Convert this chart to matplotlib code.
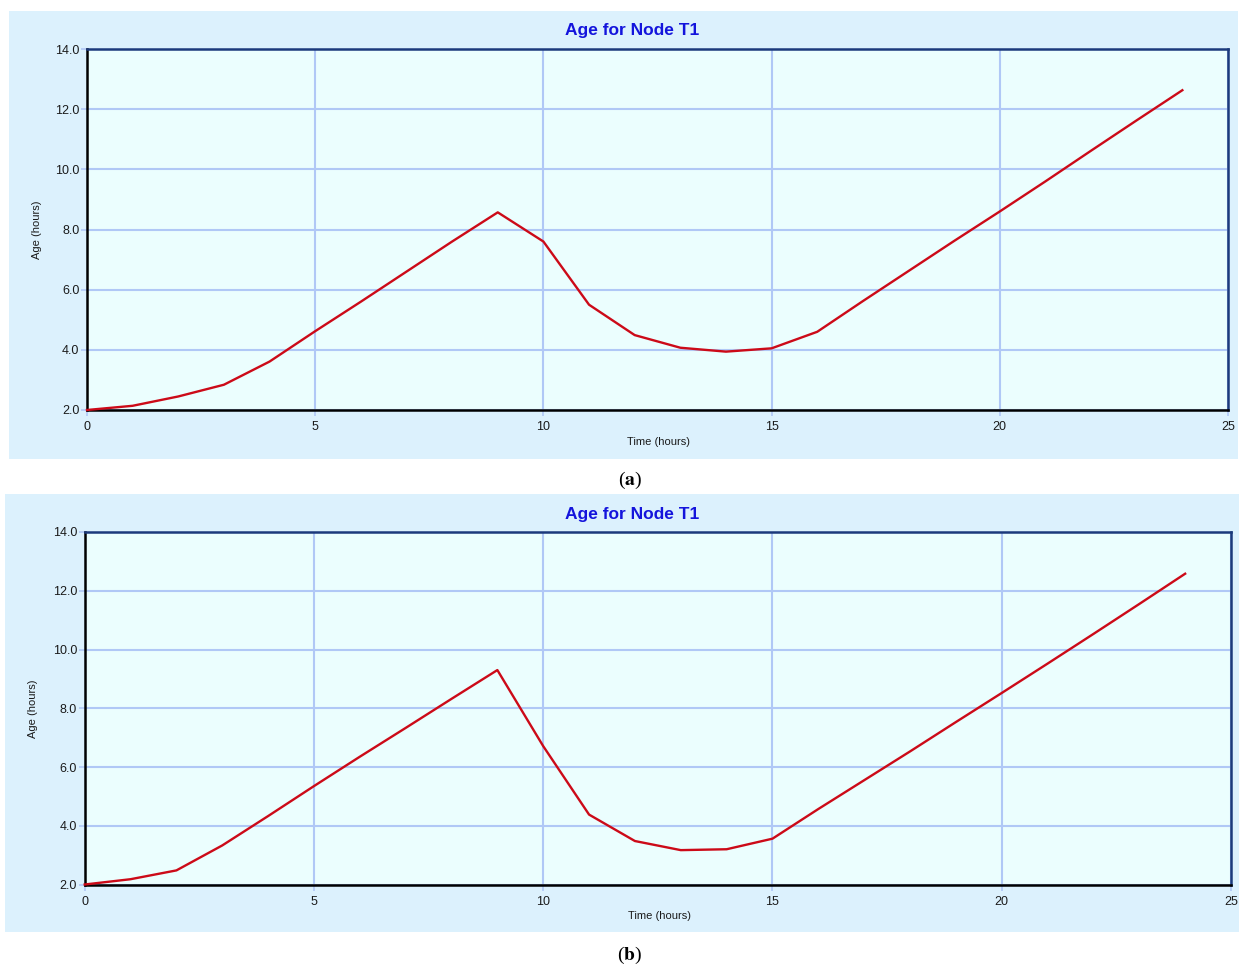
import matplotlib
matplotlib.use("Agg")
import matplotlib.pyplot as plt
from matplotlib.patches import Rectangle

plt.rcParams['font.family'] = ['Liberation Sans', 'DejaVu Sans']
plt.rcParams['mathtext.fontset'] = 'stix'

# ---- data ----
hours = list(range(0, 25))
age_a = [2.00, 2.14, 2.45, 2.84, 3.61, 4.62, 5.60, 6.60, 7.60, 8.57,
         7.60, 5.50, 4.49, 4.07, 3.94, 4.05, 4.60, 5.62, 6.62, 7.62,
         8.60, 9.60, 10.62, 11.63, 12.63]
age_b = [2.00, 2.18, 2.48, 3.33, 4.33, 5.35, 6.35, 7.33, 8.32, 9.30,
         6.71, 4.38, 3.48, 3.17, 3.20, 3.56, 4.57, 5.55, 6.53, 7.53,
         8.52, 9.52, 10.53, 11.55, 12.58]
xticks = [0, 5, 10, 15, 20, 25]
yticks = [2.0, 4.0, 6.0, 8.0, 10.0, 12.0, 14.0]
title = "Age for Node T1"
xlabel = "Time (hours)"
ylabel = "Age (hours)"
captions = ["a", "b"]

W, H = 1239, 967
fig = plt.figure(figsize=(W / 100, H / 100), dpi=100)
fig.patch.set_facecolor('white')

OUTER = '#dcf1fd'
INNER = '#ebfefe'
GRID = '#b0c8f6'
NAVY = '#1c3a7c'
RED = '#cc0a18'

def px_rect(x0, y0, x1, y1):
    return [x0 / W, 1 - y1 / H, (x1 - x0) / W, (y1 - y0) / H]

panels = [
    dict(box=(9, 11, 1238, 459), ax=(87, 49, 1228, 410), data=age_a,
         title_y=31, xl_y=442, yl_x=37, cap_y=480),
    dict(box=(5, 494, 1239, 932), ax=(84.7, 532, 1231, 884.5), data=age_b,
         title_y=514, xl_y=916, yl_x=33, cap_y=955),
]

for p, cap in zip(panels, captions):
    bx0, by0, bx1, by1 = p['box']
    fig.patches.append(Rectangle((bx0 / W, 1 - by1 / H), (bx1 - bx0) / W, (by1 - by0) / H,
                                 transform=fig.transFigure, facecolor=OUTER,
                                 edgecolor='none', zorder=-10))
    ax = fig.add_axes(px_rect(*p['ax']))
    ax.set_facecolor(INNER)
    ax.plot(hours, p['data'], color=RED, lw=1.7, zorder=3, clip_on=False)
    ax.set_xlim(0, 25)
    ax.set_ylim(2, 14)
    ax.set_xticks(xticks)
    ax.set_xticklabels([str(v) for v in xticks])
    ax.set_yticks(yticks)
    ax.set_yticklabels([f"{v:.1f}" for v in yticks])
    ax.grid(True, color=GRID, lw=1.5, zorder=1)
    ax.set_axisbelow(True)
    ax.tick_params(axis='both', colors=GRID, length=4, width=1.2,
                   labelcolor='#1a1a1a', labelsize=9)
    ax.tick_params(axis='x', pad=4)
    ax.tick_params(axis='y', pad=1.5)
    for s in ['left', 'bottom']:
        ax.spines[s].set_color('black')
        ax.spines[s].set_linewidth(1.8)
    for s in ['top', 'right']:
        ax.spines[s].set_color(NAVY)
        ax.spines[s].set_linewidth(1.8)
    ax0, ay0, ax1, ay1 = p['ax']
    fig.text(632 / W, 1 - p['title_y'] / H, title, color='#1414dc',
             fontsize=12.5, fontweight='bold', ha='center', va='center')
    fig.text((ax0 + ax1) / 2 / W + 0.001, 1 - p['xl_y'] / H, xlabel,
             color='#1a1a1a', fontsize=8, ha='center', va='center')
    fig.text(p['yl_x'] / W, 1 - ((ay0 + ay1) / 2) / H, ylabel, rotation=90,
             color='#1a1a1a', fontsize=8, ha='center', va='center')
    fig.text(630 / W, 1 - p['cap_y'] / H, r"($\mathbf{" + cap + r"}$)",
             fontsize=14, ha='center', va='center', family='Liberation Serif')

fig.savefig('out.png', dpi=100, facecolor='white')
